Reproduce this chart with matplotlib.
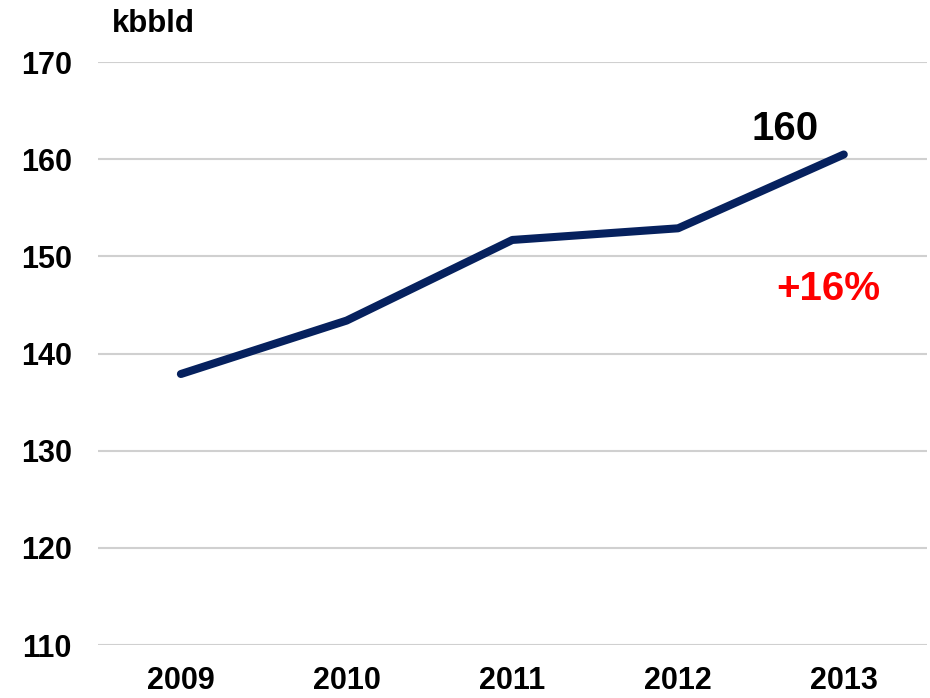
import matplotlib
matplotlib.use('Agg')
import matplotlib.pyplot as plt

# data
years = ['2009', '2010', '2011', '2012', '2013']
volume = [137.9, 143.4, 151.7, 152.9, 160.5]   # kbbl/d
y_ticks = [110, 120, 130, 140, 150, 160, 170]
unit_label = 'kbbld'
end_label = '160'
growth_label = '+16%'

plt.rcParams['font.family'] = ['Liberation Sans', 'DejaVu Sans']
plt.rcParams['font.weight'] = 'bold'

fig = plt.figure(figsize=(9.3, 6.98), dpi=100)
ax = fig.add_axes([0.1054, 0.0759, 0.891, 0.835])

x = list(range(len(years)))
ax.plot(x, volume, color='#06215E', linewidth=5.8, solid_capstyle='round',
        solid_joinstyle='round', zorder=3)

ax.set_xlim(-0.5, len(years) - 0.5)
ax.set_ylim(y_ticks[0], y_ticks[-1])
ax.set_yticks(y_ticks)
ax.set_xticks(x)
ax.set_xticklabels(years)

ax.grid(axis='y', color='#D0D0D0', linewidth=1.5)
ax.set_axisbelow(True)
for s in ax.spines.values():
    s.set_visible(False)

ax.tick_params(axis='y', length=0, pad=19, labelsize=22)
# labels are cut at the bottom edge in the original; keep them just inside
ax.tick_params(axis='x', length=0, pad=15, labelsize=22)
for lab in ax.get_xticklabels() + ax.get_yticklabels():
    lab.set_fontweight('bold')

fig.text(112 / 930, 1 - 24 / 698, unit_label, fontsize=22.5, fontweight='bold',
         ha='left', va='center')

# labels near the last point
ax.annotate(end_label, xy=(x[-1], volume[-1]), xytext=(-42, 18),
            textcoords='offset points', ha='center', va='center',
            fontsize=29, fontweight='bold', color='black')
ax.annotate(growth_label, xy=(x[-1], volume[-1]), xytext=(-11.5, -96.5),
            textcoords='offset points', ha='center', va='center',
            fontsize=29, fontweight='bold', color='#FF0000')

fig.savefig('out.png', dpi=100)
